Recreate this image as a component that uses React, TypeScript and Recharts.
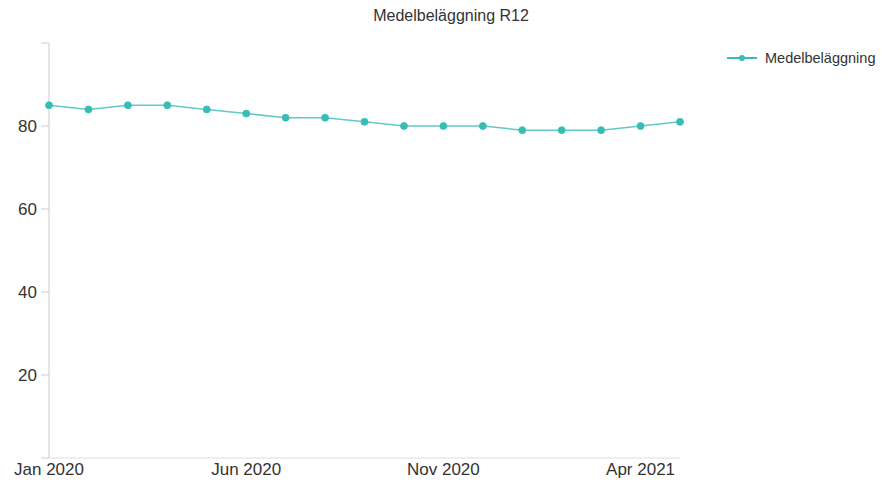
import React from "react";
import { LineChart, Line, XAxis, YAxis } from "recharts";

// Månader (x-axel) och värden
const months = [
    "Jan 2020", "Feb 2020", "Mar 2020", "Apr 2020", "May 2020", "Jun 2020",
    "Jul 2020", "Aug 2020", "Sep 2020", "Oct 2020", "Nov 2020", "Dec 2020",
    "Jan 2021", "Feb 2021", "Mar 2021", "Apr 2021", "May 2021",
];
const medelbelaggning = [85, 84, 85, 85, 84, 83, 82, 82, 81, 80, 80, 80, 79, 79, 79, 80, 81];
const yTicks = [0, 20, 40, 60, 80, 100];

const TEAL = "#38bdb6";
const FONT = "'Liberation Sans', Arial, sans-serif";

const data = months.map((m, i) => ({ month: m, value: medelbelaggning[i] }));

export default function App() {
    return (
        <div style={{ position: "absolute", left: 0, top: 0, width: 882, height: 482, background: "#fff" }}>
            <div
                style={{
                    position: "absolute",
                    top: 7,
                    left: 0,
                    width: 902,
                    textAlign: "center",
                    fontFamily: FONT,
                    fontSize: 16,
                    color: "#333",
                }}
            >
                Medelbeläggning R12
            </div>
            <div
                style={{
                    position: "absolute",
                    top: 50,
                    left: 727,
                    display: "flex",
                    alignItems: "center",
                    fontFamily: FONT,
                    fontSize: 14.5,
                    color: "#333",
                }}
            >
                <svg width={30} height={10} style={{ marginRight: 8 }}>
                    <line x1={0} y1={5} x2={30} y2={5} stroke={TEAL} strokeWidth={2} />
                    <circle cx={15} cy={5} r={3} fill={TEAL} />
                </svg>
                <span>Medelbeläggning</span>
            </div>
            <LineChart width={882} height={482} data={data} margin={{ top: 43, right: 202, bottom: 0, left: 0 }}>
                <XAxis
                    dataKey="month"
                    interval={4}
                    tickLine={false}
                    axisLine={{ stroke: "#ddd" }}
                    tick={{ fontSize: 17, fill: "#333", fontFamily: FONT }}
                    height={24}
                    tickSize={0}
                    tickMargin={5}
                />
                <YAxis
                    domain={[0, 100]}
                    ticks={yTicks}
                    width={49}
                    tickSize={8}
                    tickMargin={4}
                    tickLine={{ stroke: "#ccc" }}
                    axisLine={{ stroke: "#ccc" }}
                    tickFormatter={(v: number) => (v === 0 || v === 100 ? "" : String(v))}
                    tick={{ fontSize: 17, fill: "#333", fontFamily: FONT }}
                />
                <Line
                    type="linear"
                    dataKey="value"
                    name="Medelbeläggning"
                    stroke={TEAL}
                    strokeOpacity={0.8}
                    strokeWidth={1.5}
                    dot={{ r: 3.5, fill: TEAL, stroke: TEAL, strokeWidth: 1 }}
                    isAnimationActive={false}
                />
            </LineChart>
        </div>
    );
}
